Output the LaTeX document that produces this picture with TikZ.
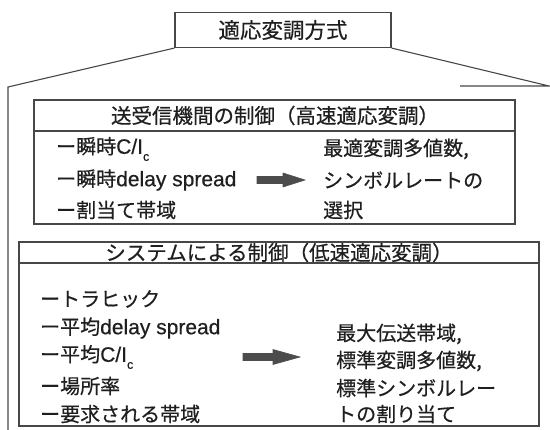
\documentclass[tikz,border=0pt]{standalone}
\usepackage{fontspec}
\setmainfont{Noto Sans CJK JP}[FakeBold=0.5]
\newfontfamily\latf{Liberation Sans}[Scale=1.05,FakeBold=0.5]
\newcommand{\la}[1]{{\latf #1}}
\newcommand{\sub}[1]{\raisebox{-0.35em}{\latf\fontsize{12}{12}\selectfont #1}}
\begin{document}
\begin{tikzpicture}[x=1pt,y=-1pt,
  frame/.style={draw=black!72,line width=1.1pt},
  boxnode/.style={frame,inner sep=0pt},
  txt/.style={inner sep=0pt,anchor=west,text=black!88,font=\fontsize{20}{20}\selectfont},
  head/.style={inner sep=0pt,text=black!88,font=\fontsize{20.5}{20.5}\selectfont},
  fatarrow/.style={fill=black!70,draw=black!70,line width=0.6pt}]
\useasboundingbox (0,0) rectangle (550,430);
% top box
\node[boxnode,minimum width=216pt,minimum height=35pt,font=\fontsize{21.5}{21.5}\selectfont,text=black!88] (top) at (283,30) {適応変調方式};
\coordinate (ltop) at (8,87);
\coordinate (lbot) at (8,432);
\coordinate (rtop) at (549,86);
\coordinate (rmid) at (460,86);
\draw[frame] (top.south west) -- (ltop) -- (lbot);
\draw[frame] (top.south east) -- (rtop) -- (rmid);
% box 1
\node[boxnode,minimum width=481pt,minimum height=124pt] (b1) at (274.5,162) {};
\coordinate (b1dl) at (34,131);
\coordinate (b1dr) at (515,131);
\draw[frame] (b1dl) -- (b1dr);
\node[head] (b1h) at (275,115.5) {送受信機間の制御（高速適応変調）};
\node[txt] (a1) at (56,149) {ー瞬時\la{C/I}\sub{c}};
\node[txt] (a2) at (56,180) {ー瞬時\la{delay spread}};
\node[txt] (a3) at (56,210) {ー割当て帯域};
\coordinate (ar1a) at (257,180);
\fill[fatarrow] (257,176.5) -- (283,176.5) -- (283,173) -- (305,180) -- (283,187) -- (283,183.5) -- (257,183.5) -- cycle;
\node[txt] (r1) at (323,149) {最適変調多値数,};
\node[txt] (r2) at (323,180) {シンボルレートの};
\node[txt] (r3) at (323,210) {選択};
% box 2
\node[boxnode,minimum width=520pt,minimum height=184pt] (b2) at (279,334) {};
\coordinate (b2dl) at (19,263);
\coordinate (b2dr) at (539,263);
\draw[frame] (b2dl) -- (b2dr);
\node[head] (b2h) at (279,252.5) {システムによる制御（低速適応変調）};
\node[txt] (c1) at (40,299) {ートラヒック};
\node[txt] (c2) at (40,328) {ー平均\la{delay spread}};
\node[txt] (c3) at (40,357) {ー平均\la{C/I}\sub{c}};
\node[txt] (c4) at (40,386) {ー場所率};
\node[txt] (c5) at (40,414) {ー要求される帯域};
\fill[fatarrow] (243,353.5) -- (273,353.5) -- (273,349.5) -- (300,357) -- (273,364.5) -- (273,360.5) -- (243,360.5) -- cycle;
\node[txt] (d1) at (336,334) {最大伝送帯域,};
\node[txt] (d2) at (336,361) {標準変調多値数,};
\node[txt] (d3) at (336,388) {標準シンボルレー};
\node[txt] (d4) at (336,414) {トの割り当て};
\end{tikzpicture}
\end{document}
